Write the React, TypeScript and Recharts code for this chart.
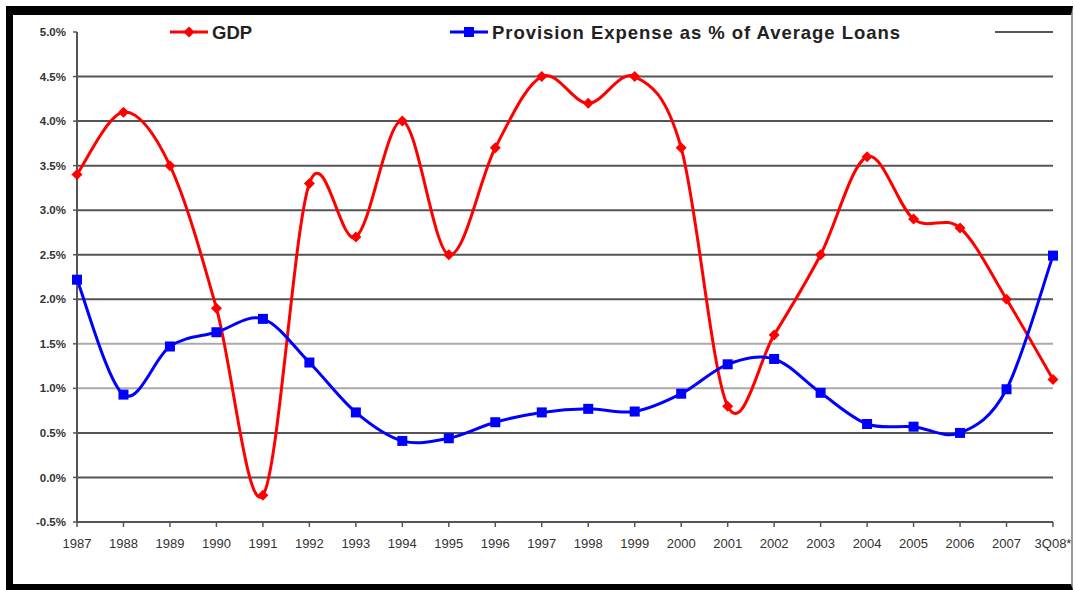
import { LineChart, Line, XAxis, YAxis, ReferenceLine } from "recharts";

// GDP growth vs. provision expense (% of average loans), 1987 – 3Q08.

const years = [
  "1987", "1988", "1989", "1990", "1991", "1992", "1993", "1994", "1995", "1996", "1997",
  "1998", "1999", "2000", "2001", "2002", "2003", "2004", "2005", "2006", "2007", "3Q08*",
];
const gdp = [3.4, 4.1, 3.5, 1.9, -0.2, 3.3, 2.7, 4.0, 2.5, 3.7, 4.5, 4.2, 4.5, 3.7, 0.8, 1.6, 2.5, 3.6, 2.9, 2.8, 2.0, 1.1];
const provision = [2.22, 0.93, 1.47, 1.63, 1.78, 1.29, 0.73, 0.41, 0.44, 0.62, 0.73, 0.77, 0.74, 0.94, 1.27, 1.33, 0.95, 0.6, 0.57, 0.5, 0.99, 2.49];
const yTicks = [-0.5, 0, 0.5, 1, 1.5, 2, 2.5, 3, 3.5, 4, 4.5, 5];
const darkGrid = [0, 0.5, 2, 2.5, 3, 3.5, 4, 4.5];
const lightGrid = [1, 1.5];

const data = years.map((year, i) => ({ year, gdp: gdp[i], provision: provision[i] }));

// Excel-like smoothed line (Catmull-Rom as cubic Beziers)
function excelSmooth(context: any) {
  let pts: [number, number][] = [];
  return {
    areaStart() {},
    areaEnd() {},
    lineStart() {
      pts = [];
    },
    point(x: number, y: number) {
      pts.push([+x, +y]);
    },
    lineEnd() {
      const n = pts.length;
      if (!n) return;
      context.moveTo(pts[0][0], pts[0][1]);
      for (let i = 0; i < n - 1; i++) {
        const p0 = pts[Math.max(i - 1, 0)];
        const p1 = pts[i];
        const p2 = pts[i + 1];
        const p3 = pts[Math.min(i + 2, n - 1)];
        context.bezierCurveTo(
          p1[0] + (p2[0] - p0[0]) / 6,
          p1[1] + (p2[1] - p0[1]) / 6,
          p2[0] - (p3[0] - p1[0]) / 6,
          p2[1] - (p3[1] - p1[1]) / 6,
          p2[0],
          p2[1]
        );
      }
    },
  };
}

const RED = "#ff0000";
const BLUE = "#0000ff";

function DiamondDot(props: any) {
  const { cx, cy, index } = props;
  if (cx == null || cy == null) return <g key={`d-${index}`} />;
  const r = 5.5;
  return (
    <path
      key={`d-${index}`}
      d={`M${cx},${cy - r}L${cx + r},${cy}L${cx},${cy + r}L${cx - r},${cy}Z`}
      fill={RED}
    />
  );
}

function SquareDot(props: any) {
  const { cx, cy, index } = props;
  if (cx == null || cy == null) return <g key={`s-${index}`} />;
  const s = 10;
  return <rect key={`s-${index}`} x={cx - s / 2} y={cy - s / 2} width={s} height={s} fill={BLUE} />;
}

// legend drawn on top of the chart, in the strip above the plot
function ChartLegend() {
  const text = { fontFamily: "'Liberation Sans', Arial, sans-serif", fontWeight: 700, fontSize: 18.5, fill: "#222" };
  return (
    <svg width={1075} height={30} style={{ position: "absolute", left: 0, top: 17 }}>
      <line x1={170} x2={208} y1={15} y2={15} stroke={RED} strokeWidth={3} />
      <path d="M189,9.5L194.5,15L189,20.5L183.5,15Z" fill={RED} />
      <text x={212} y={21.5} {...text}>GDP</text>
      <line x1={450} x2={488} y1={15} y2={15} stroke={BLUE} strokeWidth={3} />
      <rect x={464} y={10} width={10} height={10} fill={BLUE} />
      <text x={492} y={21.5} {...text} textLength={408}>Provision Expense as % of Average Loans</text>
      <line x1={995} x2={1053} y1={15} y2={15} stroke="#555" strokeWidth={2} />
    </svg>
  );
}

export default function App() {
  return (
    <div style={{ position: "absolute", left: 0, top: 0, width: 1075, height: 590, background: "#fff", overflow: "hidden" }}>
      <div
        style={{
          position: "absolute",
          left: 6,
          top: 6,
          width: 1067,
          height: 584,
          boxSizing: "border-box",
          borderTop: "9px solid #000",
          borderLeft: "7px solid #000",
          borderBottom: "6px solid #000",
          borderRight: "2px solid #999",
          background: "#fff",
        }}
      />
      <div style={{ position: "absolute", left: 0, top: 0 }}>
        <LineChart width={1075} height={590} data={data} margin={{ top: 32, right: 22, bottom: 38, left: 17 }}>
          {darkGrid.map((v) => (
            <ReferenceLine key={`g-${v}`} y={v} stroke="#555" strokeWidth={2} />
          ))}
          {lightGrid.map((v) => (
            <ReferenceLine key={`l-${v}`} y={v} stroke="#aaa" strokeWidth={2} />
          ))}
          <XAxis
            dataKey="year"
            interval={0}
            axisLine={{ stroke: "#555", strokeWidth: 2 }}
            tickLine={{ stroke: "#555", strokeWidth: 1.5 }}
            tickSize={5}
            tickMargin={12}
            tick={{ fill: "#333", fontSize: 13, fontFamily: "'Liberation Sans Narrow', 'Arial Narrow', Arial, sans-serif" }}
            height={30}
          />
          <YAxis
            domain={[-0.5, 5]}
            ticks={yTicks}
            interval={0}
            width={60}
            axisLine={{ stroke: "#555", strokeWidth: 2 }}
            tickLine={{ stroke: "#555", strokeWidth: 1.5 }}
            tickSize={4}
            tickMargin={7}
            tickFormatter={(v: number) => `${v.toFixed(1)}%`}
            tick={{ fill: "#333", fontSize: 11.5, fontWeight: 700, fontFamily: "'Liberation Sans', Arial, sans-serif" }}
          />
          <Line
            dataKey="gdp"
            name="GDP"
            type={excelSmooth as any}
            stroke={RED}
            strokeWidth={3}
            dot={(p: any) => <DiamondDot {...p} />}
            activeDot={false}
            isAnimationActive={false}
          />
          <Line
            dataKey="provision"
            name="Provision Expense as % of Average Loans"
            type={excelSmooth as any}
            stroke={BLUE}
            strokeWidth={3}
            dot={(p: any) => <SquareDot {...p} />}
            activeDot={false}
            isAnimationActive={false}
          />
        </LineChart>
      </div>
      <ChartLegend />
    </div>
  );
}
